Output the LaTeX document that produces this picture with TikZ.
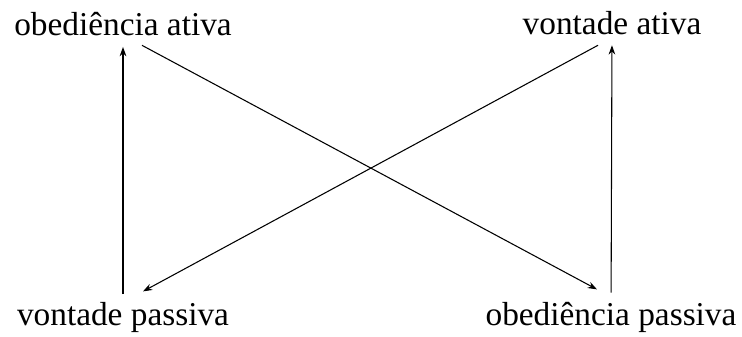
\documentclass[tikz,border=0pt]{standalone}
\usepackage{fontspec}
\setmainfont{Liberation Serif}
\usetikzlibrary{arrows.meta}
\begin{document}
\begin{tikzpicture}[x=0.75pt, y=0.75pt]
        \tikzstyle{lbl} = [font=\fontsize{25}{30}\selectfont, inner sep=0pt, anchor=base, text height=0.7em, text depth=0.25em]
        \tikzstyle{arr} = [-{Stealth[length=7pt, width=5pt]}, line width=0.8pt]
        \useasboundingbox (0, 0) rectangle (742, 336);
        \node[lbl] (oa) at (123, 300) {obediência ativa};
        \node[lbl] (va) at (612, 301) {vontade ativa};
        \node[lbl] (vp) at (123, 11) {vontade passiva};
        \node[lbl] (op) at (611, 11) {obediência passiva};
        \draw[arr, shorten <=16pt, shorten >=5.5pt] (vp) -- (oa);
        \draw[arr, shorten <=17pt, shorten >=5pt] (op) -- (va);
        \draw[arr] ([xshift=14.25pt, yshift=-4.3pt]oa.south) -- ([xshift=-10.5pt, yshift=19.5pt]op.north);
        \draw[arr] ([xshift=-10.5pt, yshift=-5pt]va.south) -- ([xshift=15pt, yshift=18pt]vp.north);
      \end{tikzpicture}
\end{document}
